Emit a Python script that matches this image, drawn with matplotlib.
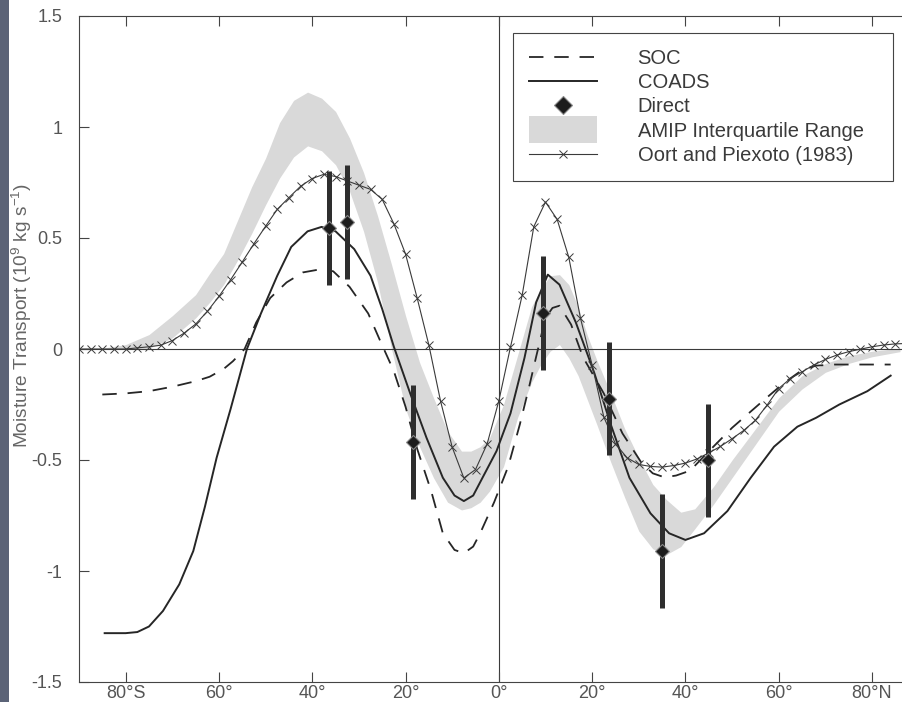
"""
Meridional moisture transport vs latitude: SOC, COADS, direct estimates,
AMIP interquartile range and Oort & Peixoto (1983).
"""
import numpy as np
import matplotlib

matplotlib.use("Agg")
import matplotlib.pyplot as plt
from matplotlib.lines import Line2D
from matplotlib.patches import Patch, Rectangle
from matplotlib.legend_handler import HandlerPatch

plt.rcParams["font.family"] = ["Liberation Sans", "DejaVu Sans"]
plt.rcParams["mathtext.fontset"] = "custom"
plt.rcParams["mathtext.rm"] = "Liberation Sans"
plt.rcParams["mathtext.it"] = "Liberation Sans:italic"

# ---------------------------------------------------------------------------
# data, latitude in degrees, transport in 1e9 kg/s
# ---------------------------------------------------------------------------
soc_lat = [-85, -80, -75, -70, -65, -62, -59, -57, -54.5, -52, -49, -45.5,
           -42, -38, -35.5, -32, -28, -25.5, -22.5, -20, -17.5, -14.5, -12,
           -9.5, -7.5, -5.5, -4, -1, 2, 4.5, 6.5, 8, 10, 11.5, 13, 15.5, 18,
           22.5, 26.5, 30.5, 33, 35.5, 38, 41, 46, 50, 56, 61, 65, 68, 72,
           80, 84]
soc_val = [-0.205, -0.20, -0.19, -0.17, -0.145, -0.125, -0.09, -0.055, 0.0,
           0.12, 0.23, 0.30, 0.345, 0.36, 0.35, 0.28, 0.16, 0.04, -0.10,
           -0.26, -0.45, -0.64, -0.83, -0.905, -0.92, -0.89, -0.83, -0.69,
           -0.53, -0.34, -0.17, -0.035, 0.14, 0.185, 0.195, 0.11, -0.035,
           -0.20, -0.38, -0.51, -0.56, -0.578, -0.57, -0.548, -0.44, -0.355,
           -0.245, -0.155, -0.095, -0.075, -0.07, -0.07, -0.07]

coads_lat = [-84.5, -80, -77.5, -75, -72, -68.5, -65.5, -63, -60.5, -57.5,
             -54, -51, -47.5, -44.5, -41, -38, -35, -31, -27.5, -25, -22.5,
             -19, -15.5, -12, -9.5, -7.5, -5.5, -3.5, -0.5, 2.5, 5.5, 8,
             10.5, 13, 16.5, 20.5, 24, 28, 32.5, 36.5, 40, 44, 49, 54, 59,
             64, 68, 73, 79, 84]
coads_val = [-1.28, -1.28, -1.275, -1.25, -1.18, -1.06, -0.91, -0.71, -0.49,
             -0.27, 0.0, 0.16, 0.33, 0.46, 0.53, 0.55, 0.53, 0.45, 0.33,
             0.18, 0.01, -0.20, -0.40, -0.58, -0.66, -0.685, -0.66, -0.58,
             -0.46, -0.29, -0.04, 0.21, 0.335, 0.29, 0.12, -0.11, -0.34,
             -0.58, -0.74, -0.83, -0.86, -0.83, -0.73, -0.58, -0.44, -0.35,
             -0.31, -0.25, -0.19, -0.12]

direct_lat = [-36.5, -32.6, -18.3, 9.5, 23.7, 34.9, 44.8]
direct_val = [0.545, 0.573, -0.419, 0.162, -0.223, -0.91, -0.502]
direct_err = [0.258, 0.258, 0.258, 0.258, 0.255, 0.257, 0.255]

amip_lat = [-86, -80, -75, -70, -65, -62, -59, -56, -53, -50, -47, -44, -41,
            -38, -35, -32, -29, -26, -23, -20, -17, -14, -11, -8, -6, -4,
            -2, 1, 4, 7, 9, 11, 13, 15, 17, 19, 21, 24, 27, 30, 33, 36, 39,
            42, 46, 50, 55, 60, 65, 70, 75, 80, 86]
amip_hi = [0.0, 0.02, 0.065, 0.15, 0.245, 0.34, 0.43, 0.58, 0.73, 0.86, 1.02,
           1.12, 1.157, 1.13, 1.07, 0.95, 0.795, 0.60, 0.38, 0.15, -0.06,
           -0.22, -0.37, -0.46, -0.46, -0.44, -0.40, -0.25, -0.03, 0.19,
           0.27, 0.33, 0.335, 0.29, 0.19, 0.06, -0.05, -0.20, -0.36, -0.49,
           -0.61, -0.68, -0.735, -0.72, -0.62, -0.50, -0.36, -0.22, -0.12,
           -0.065, -0.03, -0.01, 0.003]
amip_lo = [0.0, 0.0, 0.003, 0.05, 0.14, 0.21, 0.29, 0.40, 0.52, 0.65, 0.77,
           0.865, 0.915, 0.893, 0.83, 0.71, 0.53, 0.30, 0.0, -0.27, -0.44,
           -0.58, -0.69, -0.725, -0.715, -0.69, -0.64, -0.53, -0.31, -0.15,
           -0.07, -0.01, 0.02, -0.04, -0.12, -0.23, -0.34, -0.51, -0.67,
           -0.82, -0.90, -0.925, -0.89, -0.81, -0.70, -0.58, -0.43, -0.28,
           -0.18, -0.105, -0.065, -0.035, -0.012]

# Oort & Peixoto (1983), every 2.5 deg from 90S to 90N
oort_lat = np.arange(-90.0, 90.1, 2.5)
oort_val = [0.0, 0.0, 0.0, 0.0, 0.0, 0.005, 0.01, 0.017, 0.038, 0.071,
            0.112, 0.169, 0.237, 0.312, 0.392, 0.474, 0.553, 0.629, 0.682,
            0.733, 0.768, 0.787, 0.777, 0.757, 0.738, 0.719, 0.674, 0.564,
            0.428, 0.229, 0.018, -0.234, -0.442, -0.581, -0.543, -0.427,
            -0.234,
            0.009, 0.242, 0.551, 0.662, 0.584, 0.413, 0.139, -0.072, -0.306,
            -0.427, -0.490, -0.520, -0.529, -0.532, -0.525, -0.514, -0.495,
            -0.468, -0.439, -0.404, -0.367, -0.321, -0.253, -0.178, -0.133,
            -0.103, -0.072, -0.047, -0.027, -0.012, -0.001, 0.010, 0.018,
            0.023, 0.025, 0.025]

xtick_pos = [-80, -60, -40, -20, 0, 20, 40, 60, 80]
xtick_lab = ["80°S", "60°", "40°", "20°", "0°", "20°", "40°", "60°", "80°N"]
ytick_pos = [-1.5, -1, -0.5, 0, 0.5, 1, 1.5]
ytick_lab = ["-1.5", "-1", "-0.5", "0", "0.5", "1", "1.5"]

LINE = "#262626"
BAND = "#d9d9d9"
TXT = "#555555"


def tall_patch(legend, orig_handle, xdescent, ydescent, width, height, fontsize):
    # AMIP swatch in the legend is about twice the text height
    return Rectangle((-xdescent, -ydescent - 0.45 * height), width, 1.9 * height)


fig = plt.figure(figsize=(9.03, 7.02), dpi=100, facecolor="white")
# dark scanner edge on the left
fig.patches.append(Rectangle((0, 0), 9.5 / 903, 1, transform=fig.transFigure,
                             facecolor="#5b6377", edgecolor="none", zorder=0))

ax = fig.add_axes([79 / 903, 1 - 682 / 702, 839.65 / 903, 666 / 702])

ax.fill_between(amip_lat, amip_lo, amip_hi, color=BAND, lw=0, zorder=1)
ax.axhline(0, color="#3a3a3a", lw=0.8, zorder=1.5)
ax.axvline(0, color="#3a3a3a", lw=0.8, zorder=1.5)

ax.plot(soc_lat, soc_val, color=LINE, lw=1.3, ls=(0, (8, 6)), zorder=3)
ax.plot(coads_lat, coads_val, color=LINE, lw=1.4, zorder=3)
ax.plot(oort_lat, oort_val, color="#3a3a3a", lw=0.8, marker="x", ms=6,
        mew=0.7, zorder=3)

ax.errorbar(direct_lat, direct_val, yerr=direct_err, fmt="none",
            ecolor="#2e2e2e", elinewidth=3.6, capsize=0, zorder=4)
ax.plot(direct_lat, direct_val, ls="none", marker="D", ms=7.5,
        mfc="#1c1c1c", mec="#8a8a8a", mew=0.8, zorder=5)

ax.set_xlim(-90, 90)
ax.set_ylim(-1.5, 1.5)
ax.set_xticks(xtick_pos)
ax.set_xticklabels(xtick_lab)
ax.set_yticks(ytick_pos)
ax.set_yticklabels(ytick_lab)
ax.tick_params(direction="in", length=7, width=0.8, color="#444444",
               top=True, right=True, labelsize=13, labelcolor=TXT)
ax.tick_params(axis="x", pad=2)
ax.tick_params(axis="y", pad=12)
for sp in ax.spines.values():
    sp.set_color("#444444")
    sp.set_linewidth(0.8)

ax.set_ylabel("Moisture Transport (10$^{9}$ kg s$^{-1}$)", fontsize=13.8,
              color="#666666")
ax.yaxis.set_label_coords(-0.054, 0.55)

handles = [
    Line2D([], [], color=LINE, lw=1.3, ls=(0, (8, 6))),
    Line2D([], [], color=LINE, lw=1.4),
    Line2D([], [], ls="none", marker="D", ms=9, mfc="#1c1c1c", mec="#8a8a8a",
           mew=0.8),
    Patch(facecolor=BAND, edgecolor="none"),
    Line2D([], [], color="#3a3a3a", lw=0.8, marker="x", ms=6, mew=0.7),
]
labels = ["SOC", "COADS", "Direct", "AMIP Interquartile Range",
          "Oort and Piexoto (1983)"]
x0 = (512.7 - 79) / 839.65
x1 = (893 - 79) / 839.65
y1 = (682 - 32.7) / 666
leg = ax.legend(handles, labels, loc="upper left", mode="expand",
                bbox_to_anchor=(x0, y1 - 0.3, x1 - x0, 0.3), borderaxespad=0,
                fontsize=14.5, numpoints=1, handlelength=3.4, handletextpad=2.0,
                borderpad=0.8, labelspacing=0.26, fancybox=False, framealpha=1,
                edgecolor="#444444",
                handler_map={Patch: HandlerPatch(patch_func=tall_patch)})
leg.get_frame().set_linewidth(0.8)
for t in leg.get_texts():
    t.set_color("#3a3a3a")

fig.savefig("out.png", dpi=100, facecolor="white")
